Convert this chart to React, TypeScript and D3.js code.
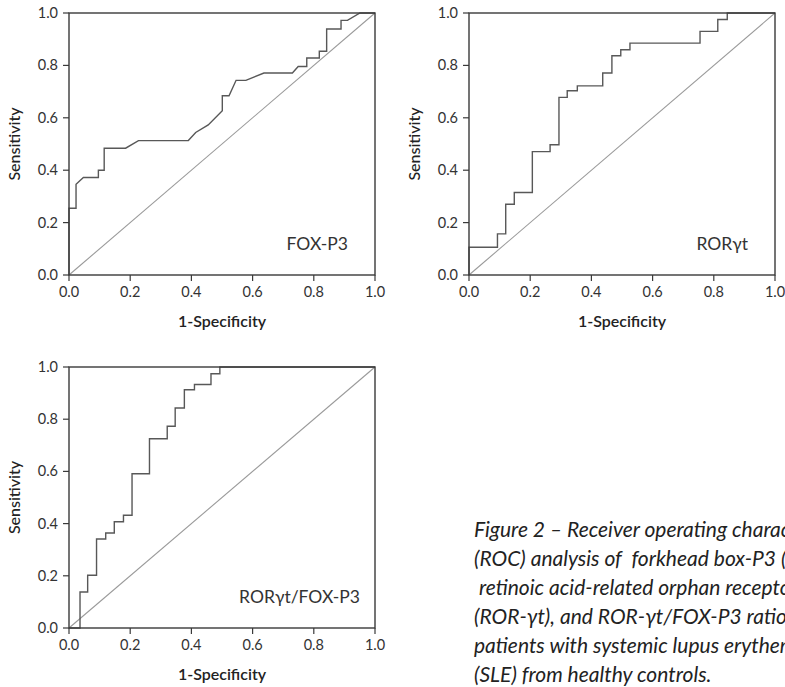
import React from "react";
import * as d3 from "d3";

const tickValues = [0, 0.2, 0.4, 0.6, 0.8, 1.0];
const tickLabels = ["0.0", "0.2", "0.4", "0.6", "0.8", "1.0"];

const foxFpr = [0, 0, 0.023, 0.023, 0.047, 0.096, 0.096, 0.115, 0.115, 0.185, 0.227, 0.39, 0.414, 0.455, 0.501, 0.501, 0.523, 0.546, 0.578, 0.637, 0.73, 0.749, 0.777, 0.777, 0.818, 0.818, 0.842, 0.842, 0.889, 0.889, 0.91, 0.951, 1.0];
const foxTpr = [0, 0.255, 0.255, 0.346, 0.372, 0.372, 0.40, 0.40, 0.484, 0.484, 0.513, 0.513, 0.544, 0.573, 0.627, 0.684, 0.684, 0.743, 0.743, 0.771, 0.771, 0.796, 0.796, 0.828, 0.828, 0.854, 0.854, 0.939, 0.939, 0.972, 0.972, 1.0, 1.0];

const rorFpr = [0, 0, 0.093, 0.093, 0.12, 0.12, 0.148, 0.148, 0.207, 0.207, 0.265, 0.265, 0.294, 0.294, 0.321, 0.321, 0.354, 0.354, 0.437, 0.437, 0.467, 0.467, 0.496, 0.496, 0.526, 0.526, 0.755, 0.755, 0.813, 0.813, 0.844, 0.844, 1.0];
const rorTpr = [0, 0.106, 0.106, 0.157, 0.157, 0.27, 0.27, 0.315, 0.315, 0.471, 0.471, 0.497, 0.497, 0.678, 0.678, 0.703, 0.703, 0.722, 0.722, 0.771, 0.771, 0.837, 0.837, 0.86, 0.86, 0.885, 0.885, 0.93, 0.93, 0.975, 0.975, 1.0, 1.0];

const ratioFpr = [0, 0.036, 0.036, 0.061, 0.061, 0.09, 0.09, 0.12, 0.12, 0.148, 0.148, 0.178, 0.178, 0.206, 0.206, 0.263, 0.263, 0.321, 0.321, 0.347, 0.347, 0.377, 0.377, 0.41, 0.41, 0.464, 0.464, 0.493, 0.493, 1.0];
const ratioTpr = [0, 0, 0.138, 0.138, 0.202, 0.202, 0.341, 0.341, 0.364, 0.364, 0.407, 0.407, 0.432, 0.432, 0.591, 0.591, 0.725, 0.725, 0.773, 0.773, 0.843, 0.843, 0.913, 0.913, 0.933, 0.933, 0.974, 0.974, 1.0, 1.0];

const panelNames = ["FOX-P3", "RORγt", "RORγt/FOX-P3"];
const xTitle = "1-Specificity";
const yTitle = "Sensitivity";

const captionLines = [
  "Figure 2 – Receiver operating characteristic",
  "(ROC) analysis of  forkhead box-P3 (FOX-P3),",
  " retinoic acid-related orphan receptor γt",
  "(ROR-γt), and ROR-γt/FOX-P3 ratio to",
  "patients with systemic lupus erythematosus",
  "(SLE) from healthy controls.",
];

const FONT = "Lato, 'Open Sans', sans-serif";

type PanelProps = {
  left: number;
  right: number;
  top: number;
  bottom: number;
  fpr: number[];
  tpr: number[];
  name: string;
};

function Panel({ left, right, top, bottom, fpr, tpr, name }: PanelProps) {
  const x = d3.scaleLinear().domain([0, 1]).range([left, right]);
  const y = d3.scaleLinear().domain([0, 1]).range([bottom, top]);
  const pts: [number, number][] = fpr.map((f, i) => [f, tpr[i]]);
  const line = d3
    .line<[number, number]>()
    .x((d) => x(d[0]))
    .y((d) => y(d[1]));
  const diag = line([
    [0, 0],
    [1, 1],
  ]);
  return (
    <g>
      <path d={diag || ""} fill="none" stroke="#9a9a9a" strokeWidth={1.1} />
      <path d={line(pts) || ""} fill="none" stroke="#585858" strokeWidth={1.4} />
      <rect
        x={left}
        y={top}
        width={right - left}
        height={bottom - top}
        fill="none"
        stroke="#3a3a3a"
        strokeWidth={1.4}
      />
      {tickValues.map((t, i) => (
        <g key={"y" + i}>
          <line x1={left - 6} x2={left} y1={y(t)} y2={y(t)} stroke="#3a3a3a" strokeWidth={1.2} />
          <text
            x={left - 11}
            y={y(t) + 5}
            textAnchor="end"
            fontSize={14.5}
            fontFamily={FONT}
            fill="#333"
          >
            {tickLabels[i]}
          </text>
        </g>
      ))}
      {tickValues.map((t, i) => (
        <g key={"x" + i}>
          <line x1={x(t)} x2={x(t)} y1={bottom} y2={bottom + 6} stroke="#3a3a3a" strokeWidth={1.2} />
          <text
            x={x(t)}
            y={bottom + 22}
            textAnchor="middle"
            fontSize={14.5}
            fontFamily={FONT}
            fill="#333"
          >
            {tickLabels[i]}
          </text>
        </g>
      ))}
      <text
        x={(left + right) / 2}
        y={bottom + 52}
        textAnchor="middle"
        fontSize={16}
        fontWeight={600}
        fontFamily={FONT}
        fill="#222"
      >
        {xTitle}
      </text>
      <text
        transform={`translate(${left - 49},${(top + bottom) / 2}) rotate(-90)`}
        textAnchor="middle"
        fontSize={16}
        fontWeight={500}
        fontFamily={FONT}
        fill="#222"
      >
        {yTitle}
      </text>
      <text
        x={right - (name.length > 8 ? 15 : 27)}
        y={bottom - 25}
        textAnchor="end"
        fontSize={17.5}
        fontFamily={FONT}
        fill="#333"
      >
        {name}
      </text>
    </g>
  );
}

export default function App() {
  return (
    <svg
      width={785}
      height={687}
      style={{ position: "absolute", left: 0, top: 0, background: "#fff" }}
    >
      <rect x={0} y={0} width={785} height={687} fill="#fff" />
      <Panel left={69} right={375} top={13} bottom={275} fpr={foxFpr} tpr={foxTpr} name={panelNames[0]} />
      <Panel left={469} right={775} top={13} bottom={275} fpr={rorFpr} tpr={rorTpr} name={panelNames[1]} />
      <Panel left={69} right={375} top={367} bottom={628} fpr={ratioFpr} tpr={ratioTpr} name={panelNames[2]} />
      {captionLines.map((l, i) => (
        <text
          key={i}
          x={474}
          y={537 + i * 29}
          fontSize={21}
          fontStyle="italic"
          fontFamily={FONT}
          fill="#222"
          style={{ whiteSpace: "pre" }}
        >
          {l}
        </text>
      ))}
    </svg>
  );
}
